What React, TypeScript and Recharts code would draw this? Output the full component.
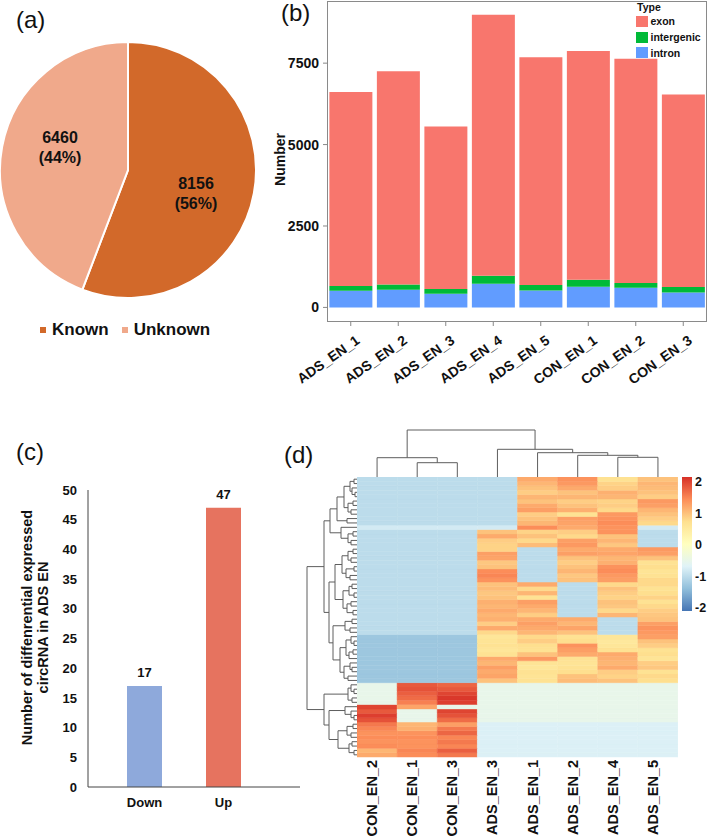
import React from "react";
import {
  PieChart,
  Pie,
  Cell,
  Legend,
  BarChart,
  Bar,
  XAxis,
  YAxis,
  LabelList,
  ScatterChart,
  Scatter,
  ReferenceLine,
} from "recharts";

const FONT = '"Liberation Sans", Arial, Helvetica, sans-serif';
const INK = "#111";

// (a) known vs unknown circRNAs
const circTypes = ["Known", "Unknown"];
const circCounts = [8156, 6460];
const circColors = ["#D2692A", "#F0A98B"];

// (b) circRNA origin per sample
const samples = ["ADS_EN_1", "ADS_EN_2", "ADS_EN_3", "ADS_EN_4", "ADS_EN_5", "CON_EN_1", "CON_EN_2", "CON_EN_3"];
const exonCounts = [5961, 6545, 4988, 8016, 6994, 7024, 6890, 5908];
const intergenicCounts = [144, 163, 144, 245, 165, 215, 144, 166];
const intronCounts = [512, 543, 420, 727, 522, 635, 604, 460];
const originTypes = ["exon", "intergenic", "intron"];
const typeColors: Record<string, string> = { exon: "#F8766D", intergenic: "#00BA38", intron: "#619CFF" };
const numberTicks = [0, 2500, 5000, 7500];

// (c) differentially expressed circRNAs
const deGroups = ["Down", "Up"];
const deCounts = [17, 47];
const deColors = ["#8EA9DB", "#E6735F"];
const deTicks = [0, 5, 10, 15, 20, 25, 30, 35, 40, 45, 50];

// (d) heatmap, columns in clustered order
const heatCols = ["CON_EN_2", "CON_EN_1", "CON_EN_3", "ADS_EN_3", "ADS_EN_1", "ADS_EN_2", "ADS_EN_4", "ADS_EN_5"];
const heatValues: number[][] = [
  [-1, -1, -1, -1, 1.2, 1.4, 0.7, 1.0],
  [-1, -1, -1, -1, 1.1, 1.35, 0.85, 1.1],
  [-1, -1, -1, -1, 1.0, 1.2, 0.9, 1.05],
  [-1, -1, -1, -1, 0.9, 1.0, 1.15, 1.0],
  [-1, -1, -1, -1, 1.1, 1.1, 1.1, 0.9],
  [-1, -1, -1, -1, 1.0, 0.9, 0.85, 1.35],
  [-1, -1, -1, -1, 1.2, 1.0, 0.9, 1.3],
  [-1, -1, -1, -1, 1.3, 1.15, 0.8, 1.1],
  [-1, -1, -1, -1, 0.9, 0.7, 1.35, 1.0],
  [-1, -1, -1, -1, 1.0, 1.3, 1.4, 0.9],
  [-1, -1, -1, -1, 1.1, 1.25, 1.45, 0.8],
  [-0.8, -0.8, -0.8, -0.8, 1.45, 1.2, 1.4, -0.8],
  [-1, -1, -1, 1.0, 0.85, 0.9, 1.4, -1],
  [-1, -1, -1, 1.2, 1.0, 0.8, 1.0, -1],
  [-1, -1, -1, 0.9, 0.8, 1.3, 1.1, -1],
  [-1, -1, -1, 0.85, 1.05, 1.35, 0.95, -1],
  [-1, -1, -1, 0.85, -1, 1.2, 1.2, 1.35],
  [-1, -1, -1, 1.3, -1, 1.3, 1.25, 1.3],
  [-1, -1, -1, 1.25, -1, 1.0, 1.1, 1.0],
  [-1, -1, -1, 0.95, -1, 0.9, 1.15, 0.7],
  [-1, -1, -1, 1.0, -1, 1.0, 1.4, 0.75],
  [-1, -1, -1, 1.45, -1, 1.1, 1.45, 0.65],
  [-1, -1, -1, 1.5, -1, 0.95, 1.35, 0.7],
  [-1, -1, -1, 1.4, -1, 1.0, 1.3, 0.8],
  [-1, -1, -1, 1.0, 1.2, -1, 0.8, 0.8],
  [-1, -1, -1, 1.05, 0.8, -1, 1.0, 0.7],
  [-1, -1, -1, 0.95, 1.1, -1, 0.9, 0.75],
  [-1, -1, -1, 1.0, 0.7, -1, 0.85, 0.85],
  [-1, -1, -1, 1.15, 1.3, -1, 1.0, 0.7],
  [-1, -1, -1, 1.1, 1.2, -1, 0.95, 0.8],
  [-1, -1, -1, 1.2, 1.1, -1, 0.8, 0.9],
  [-1, -1, -1, 1.1, 0.9, -1, 1.1, 0.95],
  [-1, -1, -1, 1.15, 1.2, 1.2, -1, 1.0],
  [-1, -1, -1, 0.9, 1.3, 1.1, -1, 1.3],
  [-1, -1, -1, 1.2, 1.2, 1.25, -1, 1.4],
  [-1, -1, -1, 0.8, 1.1, 1.0, -1, 1.35],
  [-1.28, -1.28, -1.28, 0.6, 0.8, 0.7, 0.6, 1.3],
  [-1.28, -1.28, -1.28, 0.65, 0.9, 0.75, 0.55, 1.0],
  [-1.28, -1.28, -1.28, 0.7, 0.75, 1.4, 0.6, 0.9],
  [-1.28, -1.28, -1.28, 0.6, 0.7, 1.3, 0.7, 0.7],
  [-1.28, -1.28, -1.28, 0.7, 1.0, 1.2, 1.2, 0.75],
  [-1.28, -1.28, -1.28, 1.2, 1.35, 0.7, 1.15, 0.65],
  [-1.28, -1.28, -1.28, 1.1, 0.65, 0.65, 1.1, 0.9],
  [-1.28, -1.28, -1.28, 1.3, 0.6, 0.7, 1.2, 0.95],
  [-1.28, -1.28, -1.28, 1.2, 0.7, 0.75, 0.9, 0.7],
  [-1.28, -1.28, -1.28, 1.25, 0.65, 1.0, 0.85, 0.8],
  [-1.28, -1.28, -1.28, 1.0, 0.7, 1.05, 1.0, 0.75],
  [-0.5, 1.85, 1.75, -0.5, -0.5, -0.5, -0.5, -0.5],
  [-0.5, 1.9, 1.85, -0.5, -0.5, -0.5, -0.5, -0.5],
  [-0.5, 1.8, 2.0, -0.5, -0.5, -0.5, -0.5, -0.5],
  [-0.5, 1.7, 2.1, -0.5, -0.5, -0.5, -0.5, -0.5],
  [-0.5, 1.55, 2.05, -0.5, -0.5, -0.5, -0.5, -0.5],
  [2.0, 1.25, -0.5, -0.5, -0.5, -0.5, -0.5, -0.5],
  [1.85, -0.5, 2.0, -0.5, -0.5, -0.5, -0.5, -0.5],
  [2.05, -0.5, 1.9, -0.5, -0.5, -0.5, -0.5, -0.5],
  [1.9, -0.5, 1.7, -0.5, -0.5, -0.5, -0.5, -0.5],
  [1.6, 1.1, 1.3, -0.72, -0.72, -0.72, -0.72, -0.72],
  [1.5, 1.15, 1.6, -0.72, -0.72, -0.72, -0.72, -0.72],
  [1.4, 1.4, 1.75, -0.72, -0.72, -0.72, -0.72, -0.72],
  [1.45, 1.45, 1.5, -0.72, -0.72, -0.72, -0.72, -0.72],
  [1.4, 1.4, 1.6, -0.72, -0.72, -0.72, -0.72, -0.72],
  [1.45, 1.4, 1.5, -0.72, -0.72, -0.72, -0.72, -0.72],
  [1.1, 1.5, 1.8, -0.72, -0.72, -0.72, -0.72, -0.72],
  [1.2, 1.45, 1.6, -0.72, -0.72, -0.72, -0.72, -0.72],
];

// dendrograms: leaf = index, node = [height, left, right]
type Tree = number | [number, Tree, Tree];
const colTree: Tree = [47, [19.3, 0, [14.3, 1, 2]], [27.7, 3, [24.3, 4, [21.7, 5, [19.7, 6, 7]]]]];
const rowTree: Tree = [
  50,
  [
    33,
    [
      27,
      [20, [13, [7, [3, 0, 1], [5, 2, [2, 3, 4]]], [9, [4, 5, 6], [6, 7, 8]]], [10, 9, 10]],
      [16, 11, [9, [4, 12, 13], [6, 14, 15]]],
    ],
    [
      28,
      [22, [15, [9, [4, 16, 17], [6, 18, 19]], [11, [3, 20, 21], [7, 22, 23]]], [14, [8, [5, 24, 25], [3, 26, 27]], [10, [6, 28, 29], [4, 30, 31]]]],
      [24, [12, [5, 32, 33], [7, 34, 35]], [17, [11, [6, 36, [3, 37, 38]], [8, [4, 39, 40], 41]], [13, [7, 42, [5, 43, 44]], [9, 45, 46]]]],
    ],
  ],
  [
    33,
    [9, [6, 47, [3, 48, 49]], [5, 50, 51]],
    [28, [12, 52, [6, 53, [3, 54, 55]]], [19, [10, [4, 56, 57], [6, 58, 59]], [8, [5, 60, 61], [3, 62, 63]]]],
  ],
];

const scaleTicks = [-2, -1, 0, 1, 2];
const scaleMin = -2.1;
const scaleMax = 2.16;
const heatStops = ["#4575B4", "#91BFDB", "#E0F3F8", "#FFFFBF", "#FEE090", "#FC8D59", "#D73027"];

function hexToRgb(h: string) {
  const n = parseInt(h.slice(1), 16);
  return [(n >> 16) & 255, (n >> 8) & 255, n & 255];
}

function heatColor(v: number) {
  const p = Math.max(0, Math.min(1, (v - scaleMin) / (scaleMax - scaleMin)));
  const s = p * (heatStops.length - 1);
  const i = Math.min(heatStops.length - 2, Math.floor(s));
  const t = s - i;
  const a = hexToRgb(heatStops[i]);
  const b = hexToRgb(heatStops[i + 1]);
  const c = a.map((x, k) => Math.round(x + (b[k] - x) * t));
  return `rgb(${c[0]},${c[1]},${c[2]})`;
}

type Seg = [number, number, number, number];
function dendroSegments(t: Tree, out: Seg[]): { pos: number; h: number } {
  if (typeof t === "number") return { pos: t + 0.5, h: 0 };
  const [h, l, r] = t;
  const a = dendroSegments(l, out);
  const b = dendroSegments(r, out);
  out.push([a.pos, a.h, a.pos, h], [a.pos, h, b.pos, h], [b.pos, h, b.pos, b.h]);
  return { pos: (a.pos + b.pos) / 2, h };
}

const RAD = Math.PI / 180;
const boldTick = { fontSize: 14, fontWeight: 700, fill: INK, fontFamily: FONT };

function CircPie() {
  const data = circTypes.map((name, i) => ({ name, value: circCounts[i] }));
  const renderLabel = (p: any) => {
    // labels sit a little clockwise of the slice middle, like the original
    const r = p.outerRadius * 0.56;
    const a = (p.midAngle - 8) * RAD;
    const x = p.cx + r * Math.cos(-a);
    const y = p.cy + r * Math.sin(-a);
    return (
      <text x={x} y={y} textAnchor="middle" fontFamily={FONT} fontWeight={700} fontSize={16} fill={INK}>
        <tspan x={x} dy={-4}>{p.value}</tspan>
        <tspan x={x} dy={20}>({Math.round(p.percent * 100)}%)</tspan>
      </text>
    );
  };
  const renderLegend = () => (
    <div style={{ display: "flex", alignItems: "center", fontFamily: FONT, fontWeight: 700, fontSize: 17, lineHeight: "20px", color: INK }}>
      {circTypes.map((name, i) => (
        <span key={name} style={{ display: "inline-flex", alignItems: "center", marginRight: 13 }}>
          <span style={{ width: 6, height: 6, background: circColors[i], marginRight: 6 }} />
          {name}
        </span>
      ))}
    </div>
  );
  return (
    <PieChart width={262} height={345} margin={{ top: 0, right: 0, bottom: 0, left: 0 }}>
      <Pie
        data={data}
        dataKey="value"
        nameKey="name"
        cx={128}
        cy={170}
        outerRadius={128}
        startAngle={90}
        endAngle={-270}
        stroke="#fff"
        strokeWidth={2}
        label={renderLabel}
        labelLine={false}
        isAnimationActive={false}
      >
        {data.map((d, i) => (
          <Cell key={d.name} fill={circColors[i]} />
        ))}
      </Pie>
      <Legend
        layout="horizontal"
        verticalAlign="middle"
        align="center"
        content={renderLegend}
        wrapperStyle={{ left: 40, top: 320, width: 220, height: 20 }}
      />
    </PieChart>
  );
}

function SampleTick({ x, y, payload }: any) {
  const ax = x + 4;
  const ay = y + 6;
  return (
    <text x={ax} y={ay} transform={`rotate(-35, ${ax}, ${ay})`} textAnchor="end" dominantBaseline="hanging" {...boldTick}>
      {payload.value}
    </text>
  );
}

function OriginBars() {
  const data = samples.map((s, i) => ({
    sample: s,
    exon: exonCounts[i],
    intergenic: intergenicCounts[i],
    intron: intronCounts[i],
  }));
  const renderLegend = () => (
    <div style={{ fontFamily: FONT, fontWeight: 700, fontSize: 10.5, color: INK }}>
      <div style={{ height: 13, lineHeight: "13px", marginLeft: 1.5 }}>Type</div>
      {originTypes.map((t) => (
        <div key={t} style={{ display: "flex", alignItems: "center", height: 15.7 }}>
          <span style={{ width: 12, height: 11, background: typeColors[t], marginRight: 3 }} />
          {t}
        </div>
      ))}
    </div>
  );
  return (
    <BarChart width={468} height={400} data={data} margin={{ top: 1, right: 1, bottom: 0, left: 0 }} barCategoryGap="5%">
      <XAxis dataKey="sample" interval={0} height={78} axisLine={false} tickSize={4} tickMargin={2} tickLine={{ stroke: "#888" }} tick={<SampleTick />} />
      <YAxis
        type="number"
        domain={[-448, 9408]}
        ticks={numberTicks}
        interval={0}
        width={87}
        axisLine={false}
        tickSize={4}
        tickMargin={4}
        tickLine={{ stroke: "#888" }}
        tick={boldTick}
        label={(p: any) => {
          const vb = p.viewBox;
          const x = vb.x + 40;
          const y = vb.y + vb.height / 2 - 2;
          return (
            <text x={x} y={y} transform={`rotate(-90, ${x}, ${y})`} textAnchor="middle" dominantBaseline="central" {...boldTick}>
              Number
            </text>
          );
        }}
      />
      <Legend layout="horizontal" verticalAlign="middle" align="center" content={renderLegend} wrapperStyle={{ left: 395.5, top: 0.5, width: 80, height: 62 }} />
      <Bar dataKey="intron" stackId="t" fill={typeColors.intron} isAnimationActive={false} />
      <Bar dataKey="intergenic" stackId="t" fill={typeColors.intergenic} isAnimationActive={false} />
      <Bar dataKey="exon" stackId="t" fill={typeColors.exon} isAnimationActive={false} />
    </BarChart>
  );
}

function DeBars() {
  const data = deGroups.map((g, i) => ({ group: g, count: deCounts[i] }));
  const tick = { fontSize: 13, fontWeight: 700, fill: INK, fontFamily: FONT };
  return (
    <BarChart width={310} height={340} data={data} margin={{ top: 10, right: 10, bottom: 0, left: 0 }}>
      <XAxis dataKey="group" padding={{ left: 17, right: 37 }} height={33} axisLine={{ stroke: "#444" }} tickLine={false} tickSize={0} tickMargin={11} tick={tick} />
      <YAxis
        type="number"
        domain={[0, 50]}
        ticks={deTicks}
        interval={0}
        width={88}
        axisLine={{ stroke: "#444" }}
        tickLine={false}
        tickSize={0}
        tickMargin={11}
        tick={tick}
        label={(p: any) => {
          const vb = p.viewBox;
          const y = vb.y + vb.height / 2 - 11;
          const x1 = vb.x + 27;
          const x2 = vb.x + 43;
          const st = { fontSize: 14.5, fontWeight: 700, fill: INK, fontFamily: FONT };
          return (
            <g>
              <text x={x1} y={y} transform={`rotate(-90, ${x1}, ${y})`} textAnchor="middle" dominantBaseline="central" {...st}>
                Number of diffenrential expressed
              </text>
              <text x={x2} y={y} transform={`rotate(-90, ${x2}, ${y})`} textAnchor="middle" dominantBaseline="central" {...st}>
                circRNA in ADS EN
              </text>
            </g>
          );
        }}
      />
      <Bar dataKey="count" barSize={35} isAnimationActive={false}>
        {data.map((d, i) => (
          <Cell key={d.group} fill={deColors[i]} />
        ))}
        <LabelList dataKey="count" position="top" offset={9} fontSize={13} fontWeight={700} fill={INK} fontFamily={FONT} />
      </Bar>
    </BarChart>
  );
}

function HeatTick({ x, y, payload }: any) {
  return (
    <text x={x} y={y} transform={`rotate(-90, ${x}, ${y})`} textAnchor="end" fontSize={14.5} fontWeight={700} fill={INK} fontFamily={FONT}>
      {payload.value}
    </text>
  );
}

function Heatmap() {
  const data = heatCols.map((name) => {
    const d: Record<string, any> = { name };
    heatValues.forEach((_, r) => (d[`r${r}`] = 1));
    return d;
  });
  const rowsBottomUp = heatValues.map((_, r) => heatValues.length - 1 - r);
  return (
    <BarChart width={321} height={360} data={data} margin={{ top: 0, right: 0, bottom: 0, left: 0 }} barCategoryGap={0} barGap={0}>
      <XAxis dataKey="name" interval={0} height={80} axisLine={false} tickLine={false} tickSize={0} tickMargin={3} tick={<HeatTick />} />
      <YAxis type="number" domain={[0, heatValues.length]} hide />
      {rowsBottomUp.map((r) => (
        <Bar key={r} dataKey={`r${r}`} stackId="h" isAnimationActive={false}>
          {heatCols.map((c, j) => {
            const col = heatColor(heatValues[r][j]);
            return <Cell key={c} fill={col} stroke={col} strokeWidth={0.5} />;
          })}
        </Bar>
      ))}
    </BarChart>
  );
}

const DENDRO = "#5e5e5e";

function ColDendrogram() {
  const segs: Seg[] = [];
  dendroSegments(colTree, segs);
  const leaves = heatCols.map((c, i) => ({ pos: i + 0.5, h: 0 }));
  return (
    <ScatterChart width={321} height={49} margin={{ top: 2, right: 0, bottom: 0, left: 0 }}>
      <XAxis type="number" dataKey="pos" domain={[0, heatCols.length]} hide />
      <YAxis type="number" dataKey="h" domain={[0, 47]} hide />
      <Scatter data={leaves} shape={() => <g />} isAnimationActive={false} />
      {segs.map((s, i) => (
        <ReferenceLine key={i} segment={[{ x: s[0], y: s[1] }, { x: s[2], y: s[3] }]} stroke={DENDRO} strokeWidth={1} />
      ))}
    </ScatterChart>
  );
}

function RowDendrogram() {
  const segs: Seg[] = [];
  dendroSegments(rowTree, segs);
  const leaves = heatValues.map((_, i) => ({ pos: i + 0.5, h: 0 }));
  return (
    <ScatterChart width={52} height={280} margin={{ top: 0, right: 0, bottom: 0, left: 2 }}>
      <XAxis type="number" dataKey="h" domain={[0, 50]} reversed hide />
      <YAxis type="number" dataKey="pos" domain={[0, heatValues.length]} reversed hide />
      <Scatter data={leaves} shape={() => <g />} isAnimationActive={false} />
      {segs.map((s, i) => (
        <ReferenceLine key={i} segment={[{ x: s[1], y: s[0] }, { x: s[3], y: s[2] }]} stroke={DENDRO} strokeWidth={1} />
      ))}
    </ScatterChart>
  );
}

function ColorKey() {
  const data = [{ k: "z", span: [scaleMin, scaleMax] }];
  return (
    <BarChart width={30} height={150} data={data} margin={{ top: 8, right: 0, bottom: 8, left: 0 }} barCategoryGap={0}>
      <defs>
        <linearGradient id="heatGrad" x1="0" y1="0" x2="0" y2="1">
          {[...heatStops].reverse().map((c, i) => (
            <stop key={c} offset={i / (heatStops.length - 1)} stopColor={c} />
          ))}
        </linearGradient>
      </defs>
      <XAxis dataKey="k" hide />
      <YAxis
        orientation="right"
        type="number"
        domain={[scaleMin, scaleMax]}
        ticks={scaleTicks}
        interval={0}
        width={20}
        axisLine={false}
        tickLine={false}
        tickSize={0}
        tickMargin={3}
        tick={{ fontSize: 12.5, fontWeight: 700, fill: INK, fontFamily: FONT, textAnchor: "start" }}
      />
      <Bar dataKey="span" fill="url(#heatGrad)" isAnimationActive={false} />
    </BarChart>
  );
}

const at = (left: number, top: number): React.CSSProperties => ({ position: "absolute", left, top });

export default function App() {
  const panelLabel = { fontSize: 24, fontFamily: FONT, fill: INK };
  return (
    <div style={{ position: "absolute", left: 0, top: 0, width: 708, height: 837, background: "#fff", overflow: "hidden", fontFamily: FONT }}>
      <div style={at(0, 0)}>
        <CircPie />
      </div>
      <div style={at(240, 0)}>
        <OriginBars />
      </div>
      <div style={{ ...at(326.5, 0.5), width: 380.5, height: 321.5, border: "1px solid #8a8a8a", boxSizing: "border-box", pointerEvents: "none" }} />
      <div style={at(0, 480)}>
        <DeBars />
      </div>
      <div style={at(357, 428)}>
        <ColDendrogram />
      </div>
      <div style={at(305, 477)}>
        <RowDendrogram />
      </div>
      <div style={at(357, 477)}>
        <Heatmap />
      </div>
      <div style={at(682, 468.5)}>
        <ColorKey />
      </div>
      <svg width={708} height={837} style={{ ...at(0, 0), pointerEvents: "none" }}>
        <text x={16} y={28} {...panelLabel}>(a)</text>
        <text x={281} y={21} {...panelLabel}>(b)</text>
        <text x={16} y={460} {...panelLabel}>(c)</text>
        <text x={284} y={463} {...panelLabel}>(d)</text>
      </svg>
    </div>
  );
}
